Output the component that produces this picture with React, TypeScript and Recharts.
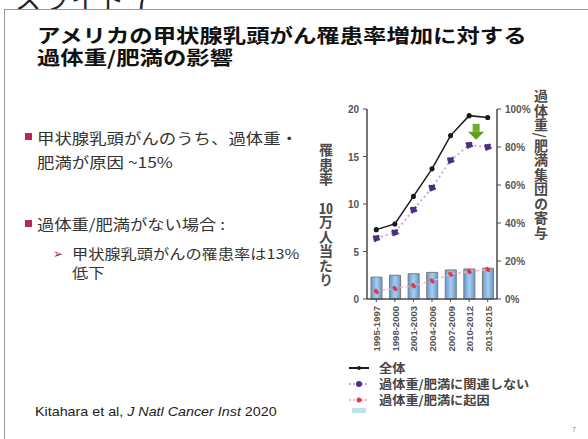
import React from 'react';
import {
  ComposedChart,
  Bar,
  Line,
  XAxis,
  YAxis,
  ReferenceDot,
} from 'recharts';

const periods = ['1995-1997', '1998-2000', '2001-2003', '2004-2006', '2007-2009', '2010-2012', '2013-2015'];
const totalRate = [7.3, 7.9, 10.8, 13.7, 17.2, 19.3, 19.1];
const notRelatedRate = [6.4, 7.0, 9.4, 11.7, 14.6, 16.2, 16.0];
const attributableRate = [0.8, 1.1, 1.4, 1.9, 2.6, 2.9, 3.1];
const contributionPct = [11.5, 12.5, 13.3, 14.0, 15.3, 15.8, 16.2];
const leftTicks = [0, 5, 10, 15, 20];
const rightTicks = [0, 20, 40, 60, 80, 100];

const data = periods.map((p, i) => ({
  period: p,
  total: totalRate[i],
  notRelated: notRelatedRate[i],
  attributable: attributableRate[i],
  contribution: contributionPct[i],
}));

const AXIS = '#4a4a4a';
const TICK_FONT = "'Liberation Sans', Arial, sans-serif";

const LeftTick = (props: any) => {
  const { x, y, payload } = props;
  return (
    <text x={x - 2} y={y + 4} textAnchor="end" fontSize={10} fontWeight="bold" fill="#555" fontFamily={TICK_FONT}>
      {payload.value}
    </text>
  );
};

const RightTick = (props: any) => {
  const { x, y, payload } = props;
  return (
    <text x={x + 2} y={y + 4} textAnchor="start" fontSize={10} fontWeight="bold" fill="#555" fontFamily={TICK_FONT}>
      {payload.value}%
    </text>
  );
};

const PeriodTick = (props: any) => {
  const { x, y, payload } = props;
  return (
    <text
      x={x + 4}
      y={y + 2}
      transform={`rotate(-90 ${x + 4} ${y + 2})`}
      textAnchor="end"
      fontSize={9.5}
      fontWeight="bold"
      fill="#555"
      fontFamily={TICK_FONT}
    >
      {payload.value}
    </text>
  );
};

// green arrow marking the peak period
const DownArrow = (props: any) => {
  const { cx, cy } = props;
  const x = cx + 7;
  return (
    <g>
      <rect x={x - 3.5} y={cy - 8} width={7} height={8} fill="#6fae2c" />
      <path d={`M ${x - 8} ${cy} L ${x + 8} ${cy} L ${x} ${cy + 8} Z`} fill="#5e9e22" />
    </g>
  );
};

const vLabel: React.CSSProperties = {
  position: 'absolute',
  writingMode: 'vertical-rl',
  fontWeight: 'bold',
  fontSize: 14,
  lineHeight: '15px',
  color: '#4a4a4a',
  letterSpacing: 0.5,
};

export default function App() {
  return (
    <div
      style={{
        position: 'absolute',
        left: 0,
        top: 0,
        width: 588,
        height: 439,
        background: '#fff',
        overflow: 'hidden',
        fontFamily: "'Noto Sans CJK JP', sans-serif",
      }}
    >
      {/* slide caption cut off at the top */}
      <div style={{ position: 'absolute', left: 15, top: -21, fontSize: 26, color: '#222', letterSpacing: 2 }}>
        スライド 7
      </div>
      <div style={{ position: 'absolute', left: 4, top: 9, width: 600, height: 440, borderLeft: '1.5px solid #9a9a9a', borderTop: '1.5px solid #9a9a9a', background: '#fff' }} />

      <div
        style={{
          position: 'absolute',
          left: 37,
          top: 24,
          fontSize: 19,
          lineHeight: '22px',
          fontWeight: 'bold',
          color: '#111',
          transform: 'scaleX(1.23)',
          transformOrigin: 'left top',
          whiteSpace: 'nowrap',
        }}
      >
        アメリカの甲状腺乳頭がん罹患率増加に対する
        <br />
        過体重/肥満の影響
      </div>

      <div style={{ position: 'absolute', left: 25, top: 133, width: 7, height: 7, background: '#b8284f' }} />
      <div style={{ position: 'absolute', left: 25, top: 220, width: 7, height: 7, background: '#b8284f' }} />
      <div
        style={{ position: 'absolute', left: 37, top: 126, fontSize: 15, lineHeight: '24px', color: '#333', transform: 'scaleX(1.16)', transformOrigin: 'left top', whiteSpace: 'nowrap' }}
      >
        甲状腺乳頭がんのうち、過体重・
        <br />
        肥満が原因 ~15%
      </div>
      <div
        style={{ position: 'absolute', left: 37, top: 212, fontSize: 15, lineHeight: '24px', color: '#333', transform: 'scaleX(1.15)', transformOrigin: 'left top', whiteSpace: 'nowrap' }}
      >
        過体重/肥満がない場合 :
      </div>
      <div style={{ position: 'absolute', left: 53, top: 244, fontSize: 12, color: '#b8284f' }}>➢</div>
      <div
        style={{ position: 'absolute', left: 72, top: 244, fontSize: 13.5, lineHeight: '19px', color: '#333', transform: 'scaleX(1.2)', transformOrigin: 'left top', whiteSpace: 'nowrap' }}
      >
        甲状腺乳頭がんの罹患率は13%
        <br />
        低下
      </div>

      <div style={{ position: 'absolute', left: 35, top: 404, fontSize: 13, color: '#222', fontFamily: TICK_FONT, transform: 'scaleX(1.1)', transformOrigin: 'left top', whiteSpace: 'nowrap' }}>
        Kitahara et al, <i>J Natl Cancer Inst</i> 2020
      </div>
      <div style={{ position: 'absolute', left: 572, top: 426, fontSize: 7, color: '#888', fontFamily: TICK_FONT }}>7</div>

      {/* axis titles */}
      <div style={{ ...vLabel, left: 318, top: 143 }}>
        罹患率　<span style={{ textCombineUpright: 'all' }}>10</span>万人当たり
      </div>
      <div style={{ ...vLabel, left: 533, top: 89 }}>過体重/肥満集団の寄与</div>

      <div style={{ position: 'absolute', left: 300, top: 95 }}>
        <ComposedChart width={250} height={270} data={data} margin={{ top: 14, right: 13, left: 37, bottom: 16 }} barCategoryGap={0}>
          <defs>
            <linearGradient id="barFill" x1="0" y1="0" x2="1" y2="0">
              <stop offset="0%" stopColor="#5f9bd3" />
              <stop offset="50%" stopColor="#a9cdec" />
              <stop offset="100%" stopColor="#5f9bd3" />
            </linearGradient>
          </defs>
          <XAxis
            dataKey="period"
            xAxisId={0}
            interval={0}
            height={50}
            tick={<PeriodTick />}
            tickLine={{ stroke: AXIS }}
            axisLine={{ stroke: AXIS, strokeWidth: 1.5 }}
            tickSize={3}
          />
          <YAxis
            yAxisId="left"
            domain={[0, 20]}
            ticks={leftTicks}
            width={30}
            tick={<LeftTick />}
            tickSize={4}
            tickLine={{ stroke: AXIS }}
            axisLine={{ stroke: AXIS, strokeWidth: 1.5 }}
          />
          <YAxis
            yAxisId="right"
            orientation="right"
            domain={[0, 100]}
            ticks={rightTicks}
            width={40}
            tick={<RightTick />}
            tickSize={4}
            tickLine={{ stroke: AXIS }}
            axisLine={{ stroke: AXIS, strokeWidth: 1.5 }}
          />
          <Bar
            yAxisId="right"
            dataKey="contribution"
            barSize={11}
            fill="url(#barFill)"
            stroke="#7a7a7a"
            strokeWidth={1}
            isAnimationActive={false}
          />
          <Line
            yAxisId="left"
            dataKey="attributable"
            stroke="#f3b3b9"
            strokeWidth={1.5}
            strokeDasharray="3 3"
            dot={{ r: 2, fill: '#e8354a', stroke: '#e8354a' }}
            isAnimationActive={false}
          />
          <Line
            yAxisId="left"
            dataKey="notRelated"
            stroke="#bfb0dd"
            strokeWidth={2}
            strokeDasharray="2 3"
            dot={{ r: 3, fill: '#4b2e83', stroke: '#4b2e83' }}
            isAnimationActive={false}
          />
          <Line
            yAxisId="left"
            dataKey="total"
            stroke="#1a1a1a"
            strokeWidth={1.5}
            dot={{ r: 1.8, fill: '#1a1a1a', stroke: '#1a1a1a' }}
            isAnimationActive={false}
          />
          <ReferenceDot yAxisId="left" x="2010-2012" y={17.6} shape={<DownArrow />} />
        </ComposedChart>
      </div>

      {/* legend */}
      <div style={{ position: 'absolute', left: 348, top: 360, fontSize: 12, fontWeight: 'bold', color: '#444', lineHeight: '16px' }}>
        {[
          { name: '全体', line: '#1a1a1a', dot: '#1a1a1a', r: 2, dash: false },
          { name: '過体重/肥満に関連しない', line: '#bfb0dd', dot: '#4b2e83', r: 3, dash: true },
          { name: '過体重/肥満に起因', line: '#f3b3b9', dot: '#e8354a', r: 2.5, dash: true },
        ].map((item) => (
          <div key={item.name} style={{ display: 'flex', alignItems: 'center', height: 16 }}>
            <svg width={22} height={10} style={{ marginRight: 9 }}>
              <line x1={1} y1={5} x2={21} y2={5} stroke={item.line} strokeWidth={2} strokeDasharray={item.dash ? '2 2' : undefined} />
              <circle cx={11} cy={5} r={item.r} fill={item.dot} />
            </svg>
            <span style={{ transform: 'scaleX(1.1)', transformOrigin: 'left center', whiteSpace: 'nowrap' }}>{item.name}</span>
          </div>
        ))}
        <div style={{ width: 14, height: 5, marginLeft: 4, background: '#bfe0f0' }} />
      </div>
    </div>
  );
}
